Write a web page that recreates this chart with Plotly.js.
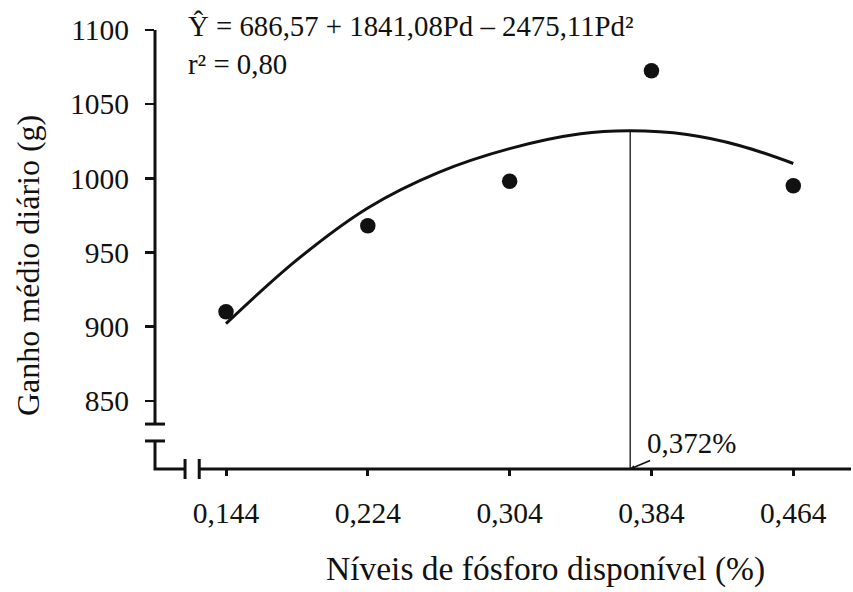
<!DOCTYPE html>
<html><head><meta charset="utf-8">
<script src="https://cdn.plot.ly/plotly-3.0.1.min.js"></script>
<style>html,body{margin:0;padding:0;background:#fff}#chart{width:853px;height:592px}</style>
</head><body><div id="chart"></div>
<script>
// ---- data ----
const levels = [0.144, 0.224, 0.304, 0.384, 0.464];
const tickLabels = ['0,144', '0,224', '0,304', '0,384', '0,464'];
const gain = [910, 968, 998, 1072.5, 995];
const curveX = [0.144, 0.184, 0.224, 0.264, 0.304, 0.344, 0.372, 0.404, 0.434, 0.464];
const curveY = [902, 945, 980, 1004, 1020, 1030, 1032, 1029.5, 1022, 1010];
const optimumX = [0.372, 0.372];
const optimumY = [804, 1032];
const optimumLabel = '0,372%';
const yTicks = [850, 900, 950, 1000, 1050, 1100];
const equation = 'Ŷ = 686,57 + 1841,08Pd – 2475,11Pd²';
const rSquared = 'r² = 0,80';
const xTitle = 'Níveis de fósforo disponível (%)';
const yTitle = 'Ganho médio diário (g)';

// ---- axis geometry ----
const X0 = 0.10395, X1 = 0.49655, Y0 = 804, Y1 = 1100;
const xp = v => (v - X0) / (X1 - X0);
const yp = v => (v - Y0) / (Y1 - Y0);
const yBreak = [834.3, 822.9];
const xBreak = [0.1209, 0.1289];

const FONT = 'Liberation Serif, Times New Roman, serif';
const INK = '#111';

const traces = [
  {x: optimumX, y: optimumY, mode: 'lines', line: {color: '#222', width: 1.4}, hoverinfo: 'skip', cliponaxis: false},
  {x: curveX, y: curveY, mode: 'lines', line: {color: INK, width: 3, shape: 'spline', smoothing: 1}, hoverinfo: 'skip'},
  {x: levels, y: gain, mode: 'markers', marker: {color: INK, size: 15.5}, cliponaxis: false}
];

const seg = {color: INK, width: 3};
const shapes = [
  {type: 'line', xref: 'paper', yref: 'paper', x0: 0, x1: 0, y0: yp(yBreak[0]), y1: 1, line: seg},
  {type: 'path', xref: 'paper', yref: 'paper',
   path: `M0,${yp(yBreak[1])} L0,0 L${xp(xBreak[0])},0`, line: seg},
  {type: 'line', xref: 'paper', yref: 'paper', x0: xp(xBreak[1]), x1: 1, y0: 0, y1: 0, line: seg},
  {type: 'line', xref: 'paper', yref: 'paper', xsizemode: 'pixel', xanchor: 0, x0: -10, x1: 10, y0: yp(yBreak[0]), y1: yp(yBreak[0]), line: seg},
  {type: 'line', xref: 'paper', yref: 'paper', xsizemode: 'pixel', xanchor: 0, x0: -10, x1: 10, y0: yp(yBreak[1]), y1: yp(yBreak[1]), line: seg},
  {type: 'line', xref: 'paper', yref: 'paper', ysizemode: 'pixel', yanchor: 0, y0: -10, y1: 10, x0: xp(xBreak[0]), x1: xp(xBreak[0]), line: seg},
  {type: 'line', xref: 'paper', yref: 'paper', ysizemode: 'pixel', yanchor: 0, y0: -10, y1: 10, x0: xp(xBreak[1]), x1: xp(xBreak[1]), line: seg}
];

const annotations = [
  {xref: 'paper', yref: 'paper', x: 0.0489, xshift: -3, y: 1.0, xanchor: 'left', yanchor: 'middle', yshift: 4,
   text: equation, showarrow: false, font: {family: FONT, size: 28.8, color: INK}},
  {xref: 'paper', yref: 'paper', x: 0.0489, xshift: -3, y: 1.0, xanchor: 'left', yanchor: 'middle', yshift: -34,
   text: rSquared, showarrow: false, font: {family: FONT, size: 28.8, color: INK}},
  {xref: 'x', yref: 'y', x: optimumX[0], y: optimumY[0], ax: 61, ay: -26, text: optimumLabel,
   showarrow: true, arrowhead: 2, arrowsize: 0.6, arrowwidth: 1.5, arrowcolor: INK, standoff: 0,
   font: {family: FONT, size: 29, color: INK}},
  {xref: 'paper', yref: 'paper', x: 0.561, y: 0, yshift: -(569 - 469), xanchor: 'center', yanchor: 'middle',
   text: xTitle, showarrow: false, font: {family: FONT, size: 33.5, color: INK}},
  {xref: 'paper', yref: 'paper', x: 0, xshift: -(155 - 28), y: 0.4624, xanchor: 'center', yanchor: 'middle',
   text: yTitle, textangle: -90, showarrow: false, font: {family: FONT, size: 32, color: INK}}
];

const layout = {
  width: 853, height: 592,
  margin: {l: 155, r: 2, t: 30, b: 123},
  paper_bgcolor: '#fff', plot_bgcolor: '#fff',
  showlegend: false,
  font: {family: FONT, color: INK},
  xaxis: {range: [X0, X1], tickvals: levels, ticktext: tickLabels, ticks: 'outside', ticklen: 6, tickwidth: 3,
          tickcolor: INK, showline: false, showgrid: false, zeroline: false,
          tickfont: {family: FONT, size: 29.5, color: INK}, ticklabelstandoff: 12},
  yaxis: {range: [Y0, Y1], tickvals: yTicks, ticks: 'outside', ticklen: 9, tickwidth: 2.5,
          tickcolor: INK, showline: false, showgrid: false, zeroline: false,
          tickfont: {family: FONT, size: 29.5, color: INK}, ticklabelstandoff: 10},
  shapes: shapes,
  annotations: annotations
};

Plotly.newPlot('chart', traces, layout, {displayModeBar: false, staticPlot: true});
</script>
</body></html>
